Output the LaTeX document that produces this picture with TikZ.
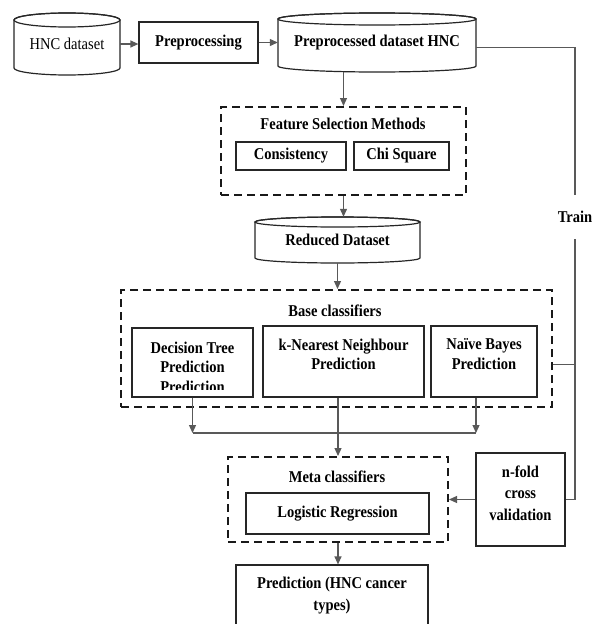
\documentclass[tikz,border=0pt]{standalone}
\usepackage{fontspec}
\setmainfont{Liberation Serif}[FakeStretch=0.88]
\usetikzlibrary{arrows.meta}

% drum-shaped data store: name, centre x, x radius, top rim y, bottom rim y, rim y radius, text
\newcommand\drum[7]{%
  \draw[box, fill=white] (#2-#3,#4) -- (#2-#3,#5)
    arc[start angle=180, end angle=0, x radius=#3, y radius=#6] -- (#2+#3,#4)
    arc[start angle=0, end angle=-180, x radius=#3, y radius=#6] -- cycle;
  \draw[box] (#2,#4) ellipse [x radius=#3, y radius=#6];
  \node[minimum width={2*#3}, minimum height={#5-#4+2*#6}] (#1) at (#2,{(#4+#5)/2}) {#7};
}

\begin{document}
\begin{tikzpicture}[x=1pt, y=-1pt,
  every node/.style={font=\fontsize{16.5}{19.5}\selectfont\bfseries, inner sep=0pt},
  box/.style={draw=black!85, line width=1.2pt},
  dbox/.style={draw=black!90, line width=2pt, dash pattern=on 8pt off 5pt},
  conn/.style={draw=black!65, line width=1.2pt},
  arr/.style={conn, -{Triangle[length=8pt, width=7pt]}},
  toptext/.style={anchor=north, align=center}]
\useasboundingbox (0,0) rectangle (600,624);
\clip (0,0) rectangle (600,624);

% input and preprocessing
\drum{hnc}{67}{53}{20}{68}{7}{\mdseries HNC dataset}
\node[box, minimum width=119pt, minimum height=41pt] (prep) at (198.5,42.5) {Preprocessing};
\drum{pre}{377}{99}{19}{66}{6}{Preprocessed dataset HNC}
\draw[arr] (hnc.east) -- (hnc.east -| prep.west);
\draw[arr] (prep.east) -- (prep.east -| pre.west);

% feature selection
\node[dbox, minimum width=245pt, minimum height=88pt] (fs) at (343.5,151) {};
\node (fst) at (343,124) {Feature Selection Methods};
\node[box, minimum width=110pt, minimum height=28pt] (cons) at (291,156) {Consistency};
\node[box, minimum width=95pt, minimum height=28pt] (chi) at (401.5,156) {Chi Square};
\draw[arr] (pre.south -| fs.north) -- (fs.north);

\drum{red}{337.5}{82.5}{222}{258}{5}{Reduced Dataset}
\draw[arr] (fs.south) -- (fs.south |- red.north);

% base classifiers
\node[dbox, minimum width=431pt, minimum height=117pt] (base) at (336.5,348.5) {};
\node (baset) at (335,311) {Base classifiers};
\draw[arr] (red.south) -- (red.south |- base.north);

\node[box, minimum width=121pt, minimum height=69pt] (dt) at (192.5,362.5) {};
\begin{scope}
  \clip ([yshift=8pt]dt.south west) rectangle (dt.north east);
  \node[toptext] (dtt) at ([yshift=-14pt]dt.north) {Decision Tree\\Prediction\\Prediction};
\end{scope}
\node[box, minimum width=161pt, minimum height=71pt] (knn) at (343.5,361.5) {};
\node[toptext] (knnt) at ([yshift=-13pt]knn.north) {k-Nearest Neighbour\\Prediction};
\node[box, minimum width=106pt, minimum height=71pt] (nb) at (484,361.5) {};
\node[toptext] (nbt) at ([yshift=-13pt]nb.north) {Na\"ive Bayes\\Prediction};

% meta classifier
\node[dbox, minimum width=220pt, minimum height=85pt] (meta) at (338,499.5) {};
\node (metat) at (337,477) {Meta classifiers};
\node[box, minimum width=183pt, minimum height=41pt] (lr) at (337.5,513.5) {Logistic Regression};

\coordinate (bus) at (338,433);
\coordinate (nbx) at ([xshift=-8pt]nb.south);
\draw[arr] (dt.south) -- (dt.south |- bus);
\draw[arr] (nbx) -- (nbx |- bus);
\draw[conn] (dt.south |- bus) -- (nbx |- bus);
\draw[arr] (knn.south -| meta.north) -- (meta.north);

% training path
\node[box, minimum width=89pt, minimum height=93pt] (nfold) at (520.5,499.5) {};
\node[align=center, font=\fontsize{16.5}{21.5}\selectfont\bfseries] (nfoldt) at (520.5,493) {n-fold\\cross\\validation};
\node[minimum height=44pt] (train) at (575,217) {Train};
\draw[conn] ([yshift=-5pt]pre.east) -| (train.north);
\draw[conn] (train.south) |- (nfold.east);
\coordinate (tap) at ([yshift=-16pt]base.east);
\draw[conn] (tap) -- (tap -| train.south);
\draw[arr] (nfold.west) -- (meta.east);

% output
\node[box, minimum width=192pt, minimum height=80pt] (pred) at (332,605) {};
\node[toptext, font=\fontsize{16.5}{22}\selectfont\bfseries] (predt) at ([yshift=-12pt]pred.north) {Prediction (HNC cancer\\types)};
\draw[arr] (meta.south) -- (meta.south |- pred.north);
\end{tikzpicture}
\end{document}
